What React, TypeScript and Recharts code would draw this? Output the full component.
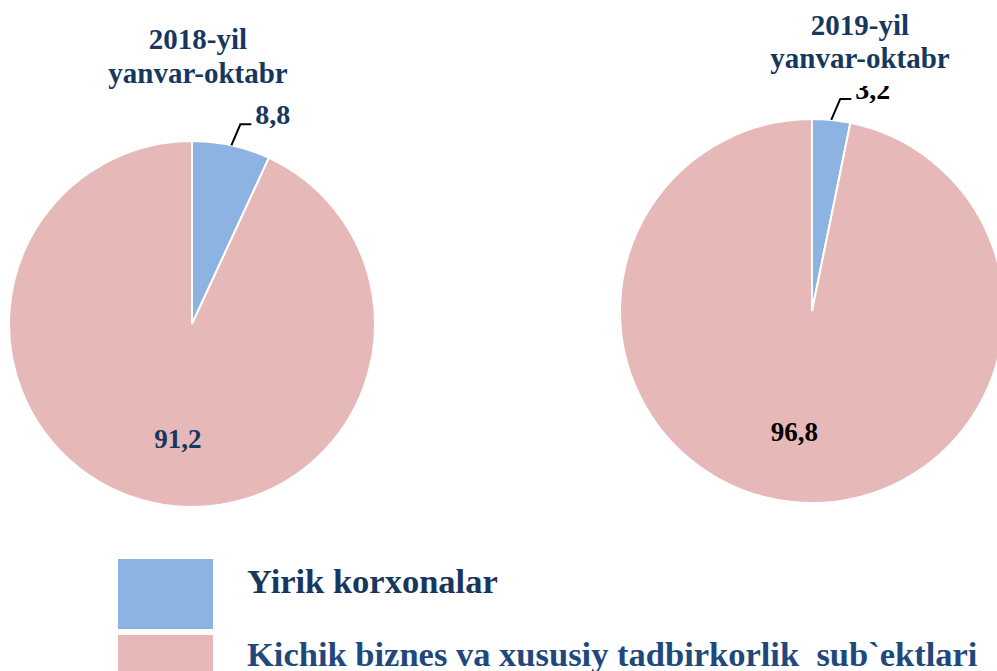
import React from 'react';
import { PieChart, Pie, Cell, Legend } from 'recharts';

// ---- data ----
const categories = ['Yirik korxonalar', 'Kichik biznes va xususiy tadbirkorlik  sub`ektlari'];
// slice shares as drawn in the picture
const shares2018 = [6.9, 93.1];
const shares2019 = [3.2, 96.8];
// data labels as printed in the picture
const labels2018 = ['8,8', '91,2'];
const labels2019 = ['3,2', '96,8'];
const title2018 = ['2018-yil', 'yanvar-oktabr'];
const title2019 = ['2019-yil', 'yanvar-oktabr'];

const data2018 = categories.map((name, i) => ({ name, value: shares2018[i], label: labels2018[i] }));
const data2019 = categories.map((name, i) => ({ name, value: shares2019[i], label: labels2019[i] }));

// ---- style ----
const COLORS = ['#8DB3E2', '#E6B9B8'];
const NAVY = '#17375E';
const FONT = '"Liberation Serif", "DejaVu Serif", Tinos, "Times New Roman", serif';
const RAD = Math.PI / 180;

const makeLabel = (color: string, innerAngleOffset: number) => (props: any) => {
  const { cx, cy, midAngle, outerRadius, index, payload } = props;
  const text = payload?.label ?? props.label;
  if (index === 0) {
    const a = midAngle;
    const sx = cx + outerRadius * Math.cos(a * RAD);
    const sy = cy - outerRadius * Math.sin(a * RAD);
    const ex = sx + 9;
    const ey = sy - 21;
    const fx = ex + 11;
    return (
      <g>
        <polyline points={`${sx},${sy} ${ex},${ey} ${fx},${ey}`} fill="none" stroke="#000" strokeWidth={2} />
        <text x={fx + 4} y={ey + 0} fill={color} fontFamily={FONT} fontWeight="bold" fontSize={28} textAnchor="start">
          {text}
        </text>
      </g>
    );
  }
  const a = midAngle + innerAngleOffset;
  const r = outerRadius * 0.635;
  const x = cx + r * Math.cos(a * RAD);
  const y = cy - r * Math.sin(a * RAD);
  return (
    <text x={x} y={y + 9} fill={color} fontFamily={FONT} fontWeight="bold" fontSize={27} textAnchor="middle">
      {text}
    </text>
  );
};

const LEGEND_TEXT_COLORS = ['#17375E', '#1F497D'];

const renderLegend = () => (
  <div style={{ position: 'relative', width: 870, height: 112, fontFamily: FONT }}>
    {categories.map((c, i) => (
      <React.Fragment key={c}>
        <div
          style={{
            position: 'absolute',
            left: 0,
            top: i * 76,
            width: 95,
            height: 70,
            background: COLORS[i],
          }}
        />
        <div
          style={{
            position: 'absolute',
            left: 129,
            top: i === 0 ? 4.5 : 77.5,
            fontSize: 34.5,
            lineHeight: '34px',
            fontWeight: 'bold',
            color: LEGEND_TEXT_COLORS[i],
            whiteSpace: 'pre',
          }}
        >
          {c}
        </div>
      </React.Fragment>
    ))}
  </div>
);

export default function App() {
  return (
    <div
      style={{
        position: 'absolute',
        left: 0,
        top: 0,
        width: 997,
        height: 671,
        overflow: 'hidden',
        background: '#fff',
      }}
    >
      <PieChart width={1010} height={671} margin={{ top: 0, right: 0, bottom: 0, left: 0 }}>
        <Pie
          data={data2018}
          dataKey="value"
          nameKey="name"
          cx={192}
          cy={324}
          outerRadius={183}
          startAngle={90}
          endAngle={-270}
          stroke="#fff"
          strokeWidth={2}
          isAnimationActive={false}
          labelLine={false}
          label={makeLabel(NAVY, 5.4)}
        >
          {data2018.map((d, i) => (
            <Cell key={d.name} fill={COLORS[i]} />
          ))}
        </Pie>
        <Pie
          data={data2019}
          dataKey="value"
          nameKey="name"
          cx={812}
          cy={311}
          outerRadius={192}
          startAngle={90}
          endAngle={-270}
          stroke="#fff"
          strokeWidth={2}
          isAnimationActive={false}
          labelLine={false}
          label={makeLabel('#000', -2.5)}
        >
          {data2019.map((d, i) => (
            <Cell key={d.name} fill={COLORS[i]} />
          ))}
        </Pie>
        <Legend
          content={renderLegend}
          wrapperStyle={{ position: 'absolute', left: 118, top: 559, width: 870, height: 112, bottom: 'auto' }}
        />
      </PieChart>
      <svg
        width={997}
        height={671}
        style={{ position: 'absolute', left: 0, top: 0, pointerEvents: 'none' }}
      >
        <text fill={NAVY} fontFamily={FONT} fontWeight="bold" fontSize={29} textAnchor="middle">
          <tspan x={198} y={49}>{title2018[0]}</tspan>
          <tspan x={198} y={83}>{title2018[1]}</tspan>
        </text>
        <rect x={762} y={0} width={196} height={86} fill="#fff" />
        <text fill={NAVY} fontFamily={FONT} fontWeight="bold" fontSize={29} textAnchor="middle">
          <tspan x={860} y={35}>{title2019[0]}</tspan>
          <tspan x={860} y={68}>{title2019[1]}</tspan>
        </text>
      </svg>
    </div>
  );
}
